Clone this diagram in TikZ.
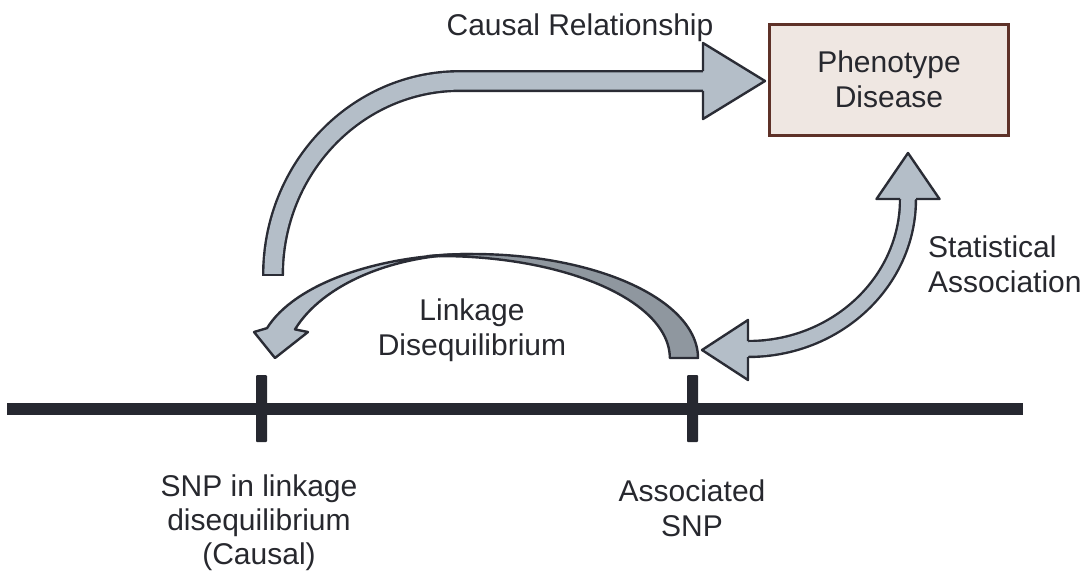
\documentclass[tikz,border=0pt]{standalone}
\usepackage{fontspec}
\setmainfont{Liberation Sans}
\definecolor{armfill}{HTML}{B4BEC8}
\definecolor{armshade}{HTML}{8F979F}
\definecolor{armedge}{HTML}{2A2C35}
\definecolor{boxfill}{HTML}{EFE7E2}
\definecolor{boxedge}{HTML}{5E3128}
\definecolor{chromo}{HTML}{262830}
\definecolor{inkcol}{HTML}{27282E}

\begin{document}
\begin{tikzpicture}[x=1pt,y=-1pt,
  lbl/.style={inner sep=0pt,text=inkcol,align=center,font=\fontsize{30}{35}\selectfont},
  pbox/.style={lbl,draw=boxedge,fill=boxfill,line width=3pt,minimum width=239pt,minimum height=111pt},
  snptick/.style={fill=chromo,rounded corners=1pt,minimum width=11pt,minimum height=67pt,inner sep=0pt},
  armline/.style={draw=armedge,line width=2.4pt,line join=round},
  armshaft/.style={armline,double=armfill},
  armhead/.style={armline,fill=armfill}]
\useasboundingbox (0,0) rectangle (1090,571);
\coordinate (chrL) at (7,409);
\coordinate (chrR) at (1023,409);
\coordinate (causalTail) at (273,275);
\coordinate (causalNeck) at (703,81);
\coordinate (causalTip) at (765,81);
\coordinate (assocLeft) at (748,349);
\coordinate (assocTip) at (702,350);
\coordinate (assocTop) at (908,199);
\coordinate (ldTail) at (684,358);
\coordinate (ldTip) at (275,358);
\draw [chromo,line width=12pt] (chrL) -- (chrR);
\node [snptick] (snpCausal) at (261.5,408.5) {};
\node [snptick] (snpAssoc) at (692.5,408.5) {};
\draw [armshaft,double distance=17.2pt] (causalTail) arc[start angle=180,end angle=270,x radius=187,y radius=194] -- (causalNeck);
\draw [armline] ([xshift=-11pt]causalTail) -- ([xshift=11pt]causalTail);
\path [armhead] (703,71.2) -- (703,43) -- (causalTip) -- (703,119) -- (703,90.8);
\draw [armshaft,double distance=13.5pt] (assocLeft) arc[start angle=90,end angle=0,x radius=160,y radius=150];
\path [armhead] (748,341) -- (748,320) -- (assocTip) -- (748,380) -- (748,357);
\path [armhead] (900,199) -- (876.5,199) -- (908,153) -- (939.5,199) -- (916,199);
\filldraw [armline,fill=armshade] ([xshift=14pt]ldTail) arc[start angle=0,end angle=-101.8,x radius=225,y radius=104] arc[start angle=-93.2,end angle=0,x radius=230,y radius=102] -- cycle;
\filldraw [armline,fill=armfill] (295,329.4) arc[start angle=200.5,end angle=270,x radius=190,y radius=116] arc[start angle=270,end angle=196.7,x radius=215,y radius=104] -- (254,332) -- (ldTip) -- (308,332) -- cycle;
\node [lbl] (causalLbl) at (580,28) {Causal Relationship};
\node [pbox] (pheno) at (889,79.5) {Phenotype\\Disease};
\node [lbl,align=left,anchor=west] (statLbl) at (928,264) {Statistical\\Association};
\node [lbl] (ldLbl) at (472,330) {Linkage\\Disequilibrium};
\node [lbl,font=\fontsize{30}{34}\selectfont] (causalSnpLbl) at (259,523) {SNP in linkage\\disequilibrium\\(Causal)};
\node [lbl] (assocSnpLbl) at (692,508) {Associated\\SNP};
\end{tikzpicture}
\end{document}
